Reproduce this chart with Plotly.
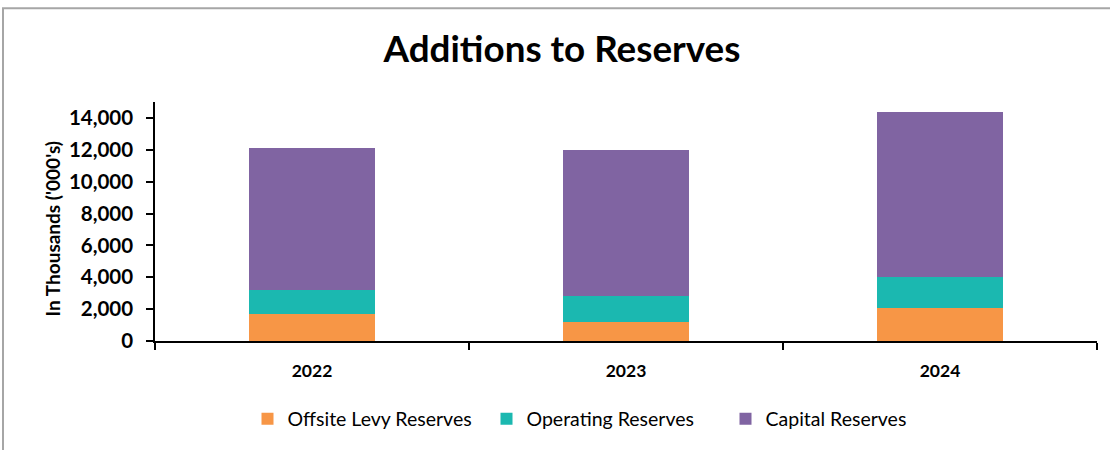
import plotly.graph_objects as go

# Fiscal years on the category axis
years = ["2022", "2023", "2024"]

# Annual additions to each reserve, in thousands of dollars
offsite_levy = [1670, 1220, 2085]
operating = [1535, 1590, 1920]
capital = [8895, 9170, 10375]

series_names = ["Offsite Levy Reserves", "Operating Reserves", "Capital Reserves"]
series_colors = ["#F79646", "#1BB8B0", "#8064A2"]
y_ticks = [0, 2000, 4000, 6000, 8000, 10000, 12000, 14000]
y_title = "In Thousands ('000's)"

FONT = "Lato"

fig = go.Figure()
for name, vals, color in zip(series_names, [offsite_levy, operating, capital], series_colors):
    fig.add_trace(go.Bar(
        x=years, y=vals, name=name,
        marker=dict(color=color, line=dict(width=0)),
    ))

# plot-area margins in pixels
L, R, T, B = 155, 13, 101.5, 107.5
W, H = 1110, 450
pw, ph = W - L - R, H - T - B
def px_x(px):
    return (px - L) / pw
def px_y(py):
    return (H - B - py) / ph

# thin gray frame around the chart area (left and top edges visible)
fig.add_shape(type="rect", xref="paper", yref="paper",
              x0=px_x(3), x1=px_x(1125), y0=px_y(465), y1=px_y(7),
              line=dict(color="#A6A6A6", width=2), fillcolor="rgba(0,0,0,0)", layer="below")

# vertical axis title beside the value axis
fig.add_annotation(
    text=y_title, textangle=-90,
    xref="paper", yref="paper", x=px_x(52), y=px_y(229),
    xanchor="center", yanchor="middle", showarrow=False,
    font=dict(family=FONT, size=19, weight="bold", color="black"),
)

fig.update_layout(
    barmode="stack",
    bargap=0.6,
    width=W, height=H,
    margin=dict(l=L, r=R, t=T, b=B),
    paper_bgcolor="white",
    plot_bgcolor="white",
    font=dict(family=FONT, color="black"),
    title=dict(
        text="Additions to Reserves",
        x=562 / W, xref="container", xanchor="center",
        y=1 - 49 / H, yref="container", yanchor="middle",
        font=dict(family=FONT, size=36.8, weight="bold", color="black"),
    ),
    xaxis=dict(
        showline=True, linecolor="black", linewidth=1.5,
        ticks="outside", tickson="boundaries", ticklen=7, tickwidth=1.5, tickcolor="black",
        tickfont=dict(family=FONT, size=17.5, weight="bold", color="black"),
        ticklabelstandoff=13,
        showgrid=False, zeroline=False,
    ),
    yaxis=dict(
        range=[0, 15000],
        tickvals=y_ticks,
        tickformat=",d",
        showline=True, linecolor="black", linewidth=1.5,
        ticks="outside", ticklen=7, tickwidth=1.5, tickcolor="black",
        tickfont=dict(family=FONT, size=20.5, weight="bold", color="black"),
        ticklabelstandoff=9,
        showgrid=False, zeroline=False,
    ),
    legend=dict(
        orientation="h",
        x=px_x(606), xanchor="center",
        y=px_y(420), yanchor="middle",
        font=dict(family=FONT, size=19.5, color="black"),
        traceorder="normal",
        itemwidth=30,
        entrywidth=194, entrywidthmode="pixels",
    ),
    showlegend=True,
)

fig.write_html("out.html")
